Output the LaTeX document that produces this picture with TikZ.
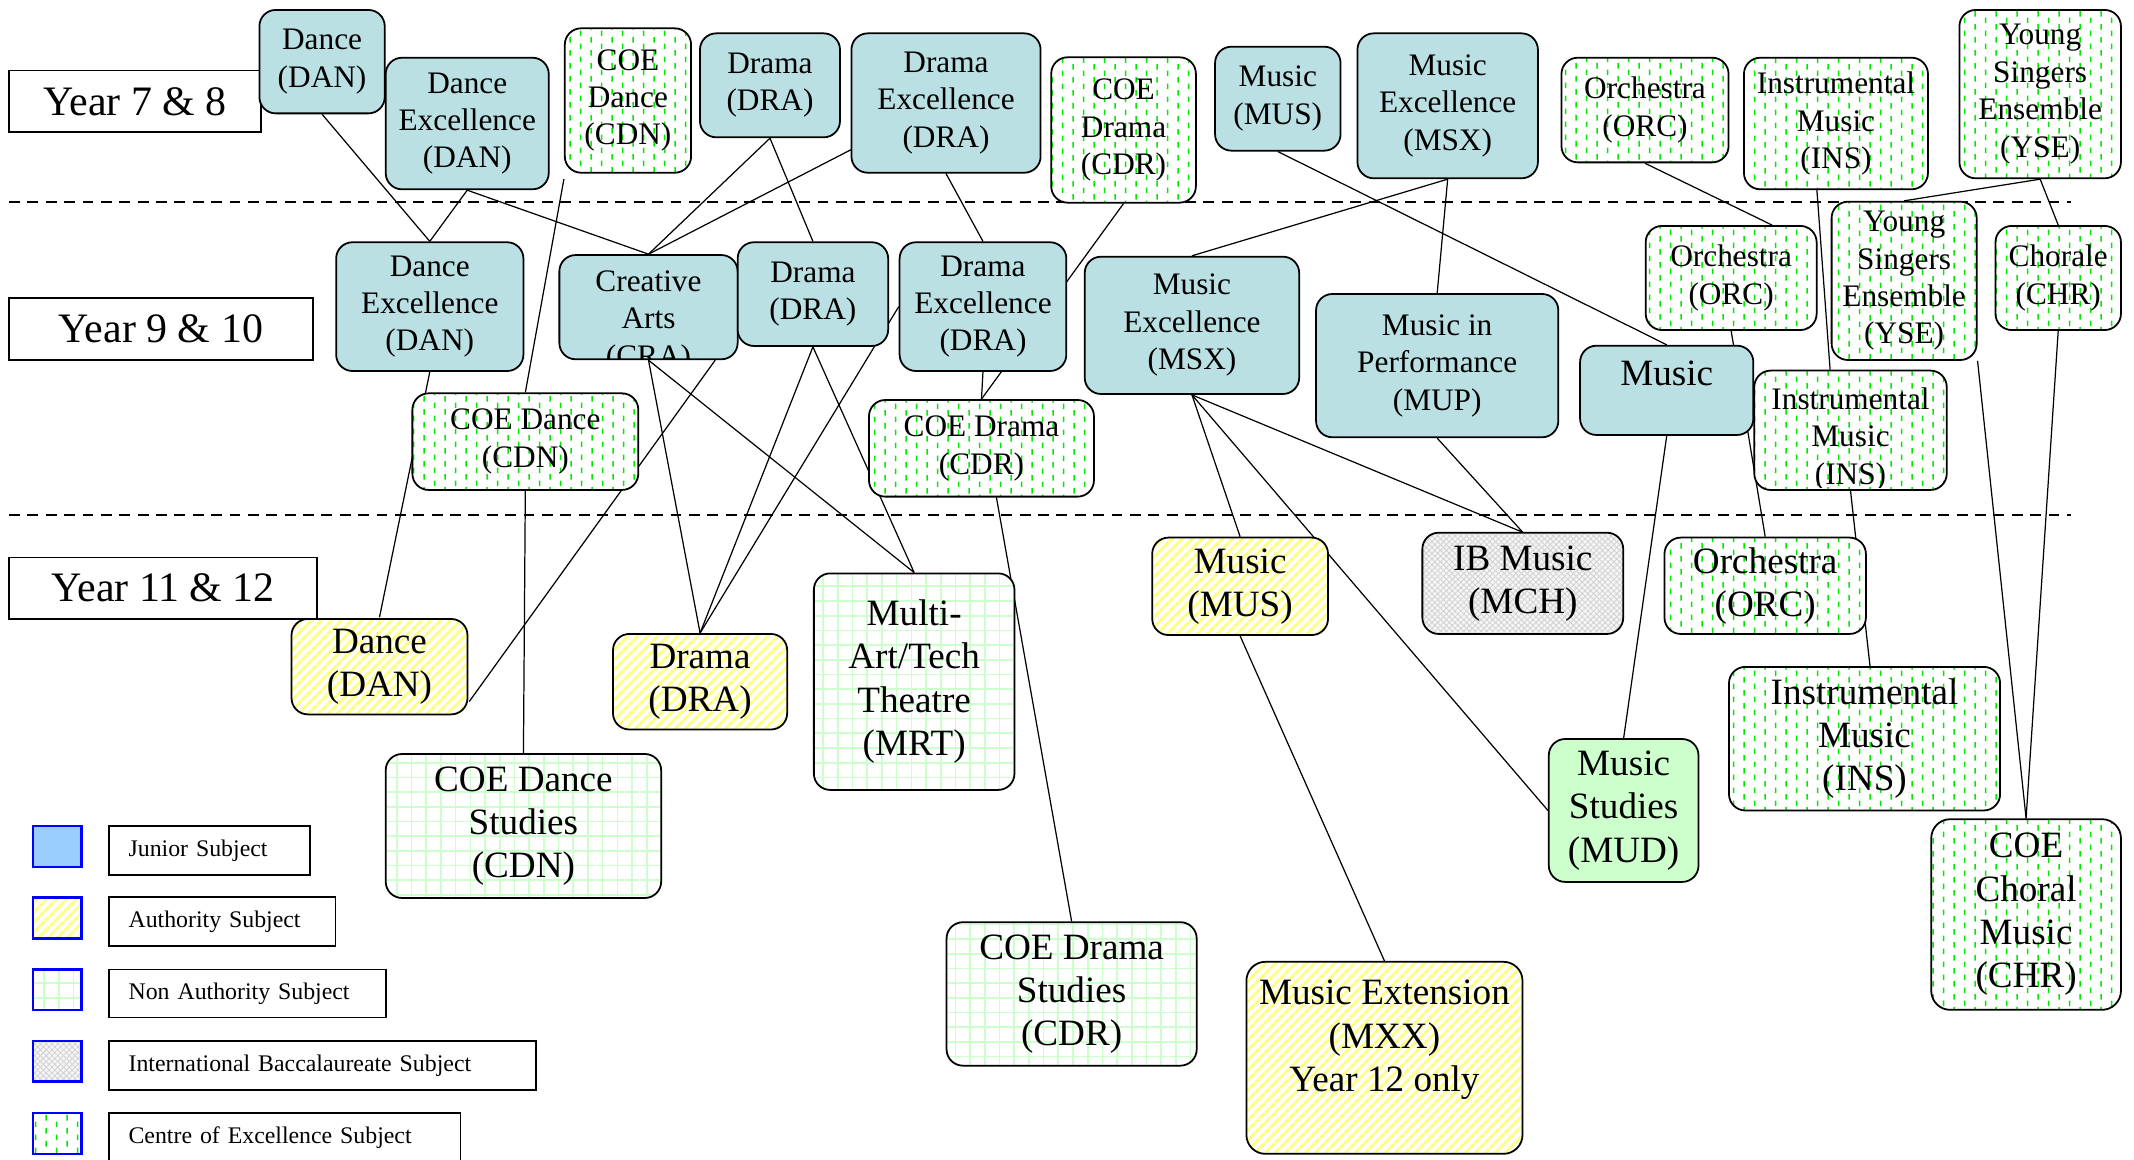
\documentclass[tikz,border=0pt]{standalone}
\usepackage{fontspec}
\setmainfont{Liberation Serif}
\usepackage{tikz}
\usetikzlibrary{patterns, patterns.meta, backgrounds}

\definecolor{juniorblue}{RGB}{186,224,228}
\definecolor{legendblue}{RGB}{153,204,255}
\definecolor{authyellow}{RGB}{255,255,125}
\definecolor{gridgreen}{RGB}{204,255,204}
\definecolor{coegreen}{RGB}{0,235,0}

\tikzdeclarepattern{
  name=coedash,
  type=uncolored,
  bounding box={(0pt,0pt) and (15.4pt,9.8pt)},
  tile size={(15.4pt,9.8pt)},
  code={
    \draw[line width=1.1pt] (3.85pt,0.3pt) -- (3.85pt,4.6pt);
    \draw[line width=1.1pt] (11.55pt,5.2pt) -- (11.55pt,9.5pt);
  }
}

\begin{document}
\begin{tikzpicture}[x=1pt, y=-1pt, semithick,
  corners/.style n args={4}{at={(#1/2+#3/2,#2/2+#4/2)}, minimum width=#3pt-#1pt, minimum height=#4pt-#2pt},
  link/.style={line width=0.9pt}]
\tikzstyle{subject}=[draw, rounded corners=12pt, line width=1.3pt, align=center, inner sep=0pt]
\tikzstyle{small text}=[font=\fontsize{23pt}{27.5pt}\selectfont]
\tikzstyle{large text}=[font=\fontsize{27.3pt}{31.8pt}\selectfont]
\tikzstyle{inner text}=[inner sep=0pt, minimum width=0pt, minimum height=0pt, anchor=north, align=center]
\tikzstyle{junior}=[subject, fill=juniorblue]
\tikzstyle{authority}=[subject, preaction={fill=white}, pattern={Lines[angle=45,distance=5.4pt,line width=2.6pt]}, pattern color=authyellow]
\tikzstyle{nonauth}=[subject, preaction={fill=white}, pattern={Hatch[angle=0,distance=10.8pt,line width=1.2pt]}, pattern color=gridgreen]
\tikzstyle{ib}=[subject, preaction={fill=gray!8}, pattern={Hatch[angle=45,distance=3pt,line width=0.6pt]}, pattern color=gray!35]
\tikzstyle{coe}=[subject, preaction={fill=white}, pattern=coedash, pattern color=coegreen]
\tikzstyle{studies}=[subject, fill=gridgreen]
\tikzstyle{yearlabel}=[draw, line width=1.2pt, fill=white, inner sep=0pt, font=\fontsize{30.8pt}{34pt}\selectfont]
\tikzstyle{keybox}=[draw=blue, line width=1.8pt, inner sep=0pt]
\tikzstyle{keytext}=[draw, line width=1.2pt, align=left, inner xsep=14.5pt, inner ysep=0pt, font=\fontsize{17.5pt}{20pt}\selectfont]

\useasboundingbox (0,0) rectangle (1568,852);

% year bands
\node[yearlabel, corners={6.7}{51.9}{191.6}{97.2}]  (y78)   {Year 7 \& 8};
\node[yearlabel, corners={6.7}{219}{229.8}{264.5}]  (y910)  {Year 9 \& 10};
\node[yearlabel, corners={6.7}{409.5}{233}{454.8}]  (y1112) {Year 11 \& 12};
\draw[line width=1.2pt, dash pattern=on 8pt off 5.5pt] (6.7,148.2) -- (1522,148.2);
\draw[line width=1.2pt, dash pattern=on 8pt off 5.5pt] (6.7,378.4) -- (1522,378.4);

% Year 7 & 8
\node[junior, small text, corners={190.6}{7.3}{282.7}{83.3}]    (dan78) {Dance\\(DAN)};
\node[junior, small text, corners={283.4}{42.4}{403.2}{139.1}]  (dnx78) {Dance\\Excellence\\(DAN)};
\node[coe, small text, corners={415}{20.8}{507.8}{126.9}]       (cdn78) {COE\\Dance\\(CDN)};
\node[junior, small text, corners={514.3}{24.5}{617.2}{100.9}]  (dra78) {Drama\\(DRA)};
\node[junior, small text, corners={625.6}{24.5}{764.6}{126.9}]  (drx78) {Drama\\Excellence\\(DRA)};
\node[coe, small text, corners={772.4}{42.1}{878.7}{148.9}]     (cdr78) {COE\\Drama\\(CDR)};
\node[junior, small text, corners={892.8}{34.3}{985}{110.7}]    (mus78) {Music\\(MUS)};
\node[junior, small text, corners={997.4}{24.5}{1130}{131}]     (msx78) {Music\\Excellence\\(MSX)};
\node[coe, small text, corners={1147.3}{42.4}{1270.1}{119.3}]   (orc78) {Orchestra\\(ORC)};
\node[coe, small text, corners={1281.4}{42.4}{1416.6}{139.1}]   (ins78) {Instrumental\\Music\\(INS)};
\node[coe, small text, corners={1439.7}{7.3}{1558.4}{131}]      (yse78) {Young\\Singers\\Ensemble\\(YSE)};

% Year 9 & 10
\node[junior, small text, corners={247}{178}{384.6}{272.6}]     (dnx910) {Dance\\Excellence\\(DAN)};
\node[junior, corners={411}{187.4}{542}{264}, path picture={
  \node[small text, inner text] at ([shift={(0,10.8)}]path picture bounding box.north) {Creative\\Arts\\(CRA)};}] (cra910) {};
\node[junior, small text, corners={542}{178}{652.6}{254.2}]     (dra910) {Drama\\(DRA)};
\node[junior, small text, corners={661}{178}{783.5}{272.6}]     (drx910) {Drama\\Excellence\\(DRA)};
\node[junior, small text, corners={797}{188.6}{954.6}{289.5}]   (msx910) {Music\\Excellence\\(MSX)};
\node[junior, small text, corners={967}{216}{1145}{321.3}]      (mup910) {Music in\\Performance\\(MUP)};
\node[junior, large text, corners={1161}{254}{1288.3}{319.6}, text height=29pt, text depth=36.6pt] (mus910) {Music};
\node[coe, small text, corners={1209.2}{166}{1334.8}{242.5}]    (orc910) {Orchestra\\(ORC)};
\node[coe, small text, corners={1345.8}{148.2}{1452.4}{264.5}]  (yse910) {Young\\Singers\\Ensemble\\(YSE)};
\node[coe, small text, corners={1466.2}{166}{1558.4}{242.5}]    (chr910) {Chorale\\(CHR)};
\node[coe, small text, corners={303}{289}{469}{360}]            (cdn910) {COE Dance\\(CDN)};
\node[coe, small text, corners={638.5}{293.9}{803.8}{364.9}]    (cdr910) {COE Drama\\(CDR)};
\node[coe, corners={1289}{272.3}{1430.4}{360}, path picture={
  \clip (path picture bounding box.north west) rectangle ([shift={(0,-2)}]path picture bounding box.south east);
  \node[small text, inner text] at ([shift={(0,12)}]path picture bounding box.north) {Instrumental\\Music\\(INS)};}] (ins910) {};

% Year 11 & 12
\node[authority, large text, corners={214.2}{454.8}{343.5}{524.9}] (dan1112) {Dance\\(DAN)};
\node[authority, large text, corners={450.4}{465.8}{578.4}{536}]   (dra1112) {Drama\\(DRA)};
\node[nonauth, large text, corners={598}{421.3}{745.4}{580.4}]     (mrt)     {Multi-\\Art/Tech\\Theatre\\(MRT)};
\node[authority, large text, corners={846.6}{395}{975.8}{466.6}]   (mus1112) {Music\\(MUS)};
\node[ib, large text, corners={1045.1}{391.4}{1192.7}{465.8}]      (mch)     {IB Music\\(MCH)};
\node[coe, large text, corners={1223}{395}{1371}{465.8}]           (orc1112) {Orchestra\\(ORC)};
\node[coe, large text, corners={1270.4}{490}{1469.6}{595.5}]       (ins1112) {Instrumental\\Music\\(INS)};
\node[studies, large text, corners={1138}{543}{1248}{648}]         (mud)     {Music\\Studies\\(MUD)};
\node[nonauth, large text, corners={283.4}{554}{485.8}{659.8}]     (cdns)    {COE Dance\\Studies\\(CDN)};
\node[nonauth, large text, corners={695.5}{677.6}{879.3}{783}]     (cdrs)    {COE Drama\\Studies\\(CDR)};
\node[authority, corners={915.8}{706.7}{1118.7}{847.8}, rounded corners=14pt, path picture={
  \node[large text, inner text] at ([shift={(0,13)}]path picture bounding box.north) {Music Extension\\(MXX)\\Year 12 only};}] (mxx) {};
\node[coe, large text, corners={1419}{601.9}{1558.4}{742}, rounded corners=14pt] (chrc) {COE\\Choral\\Music\\(CHR)};

% key
\node[keybox, fill=legendblue, corners={24.3}{606.8}{60}{637}] (kjun) {};
\node[keybox, preaction={fill=white}, pattern={Lines[angle=45,distance=5.4pt,line width=2.6pt]}, pattern color=authyellow, corners={24.3}{659.3}{60}{689.6}] (kauth) {};
\node[keybox, preaction={fill=white}, pattern={Hatch[angle=0,distance=10.8pt,line width=1.2pt]}, pattern color=gridgreen, corners={24.3}{712.3}{60}{742}] (knon) {};
\node[keybox, preaction={fill=gray!8}, pattern={Hatch[angle=45,distance=3pt,line width=0.6pt]}, pattern color=gray!35, corners={24.3}{765}{60}{794.8}] (kib) {};
\node[keybox, preaction={fill=white}, pattern=coedash, pattern color=coegreen, corners={24.3}{817.8}{60}{847.9}] (kcoe) {};
\node[keytext, text width=118.7pt, corners={80}{606.8}{227.7}{642.7}] (tjun)  {Junior Subject};
\node[keytext, text width=137.6pt, corners={80}{659.3}{246.6}{695.2}] (tauth) {Authority Subject};
\node[keytext, text width=174.4pt, corners={80}{712.3}{283.4}{747.7}] (tnon)  {Non Authority Subject};
\node[keytext, text width=285pt, corners={80}{765}{394}{800.9}]       (tib)   {International Baccalaureate Subject};
\node[keytext, text width=229.4pt, corners={80}{817.8}{338.4}{853.7}] (tcoe)  {Centre of Excellence Subject};

\begin{pgfonlayer}{background}
\path[link]
(dan78.south) edge (dnx910.north)
(dnx78.south) edge (dnx910.north)
(dnx78.south) edge (cra910.north)
([shift={(0,4)}]cdn78.south west) edge (cdn910.north)
(dra78.south) edge (cra910.north)
(dra78.south) edge (dra910.north)
([shift={(7,-21)}]drx78.south west) edge (cra910.north)
(drx78.south) edge (drx910.north)
(cdr78.south) edge (cdr910.north)
(mus78.south) edge (mus910.north)
(msx78.south) edge (msx910.north)
(msx78.south) edge (mup910.north)
(orc78.south) edge ([shift={(30,0)}]orc910.north)
([shift={(-14,0)}]ins78.south) edge ([shift={(-15,0)}]ins910.north)
(yse78.south) edge (yse910.north)
(yse78.south) edge (chr910.north)

(dnx910.south) edge (dan1112.north)
([shift={(49,0)}]cra910.south) edge ([shift={(0,25.6)}]dan1112.east)
(cra910.south) edge (dra1112.north)
(cra910.south) edge (mrt.north)
(dra910.south) edge (dra1112.north)
(dra910.south) edge (mrt.north)
(drx910.west) edge (dra1112.north)
(drx910.south) edge (cdr910.north)
(cdn910.south) edge (cdns.north)
([shift={(11,0)}]cdr910.south) edge (cdrs.north)
(msx910.south) edge (mus1112.north)
(msx910.south) edge (mch.north)
(msx910.south) edge (mud.west)
(mup910.south) edge (mch.north)
(mus910.south) edge (mud.north)
(orc910.south) edge (orc1112.north)
(ins910.south) edge ([shift={(4,0)}]ins1112.north)
(yse910.south east) edge (chrc.north)
(chr910.south) edge (chrc.north)
(mus1112.south) edge (mxx.north);
\end{pgfonlayer}

\end{tikzpicture}
\end{document}
